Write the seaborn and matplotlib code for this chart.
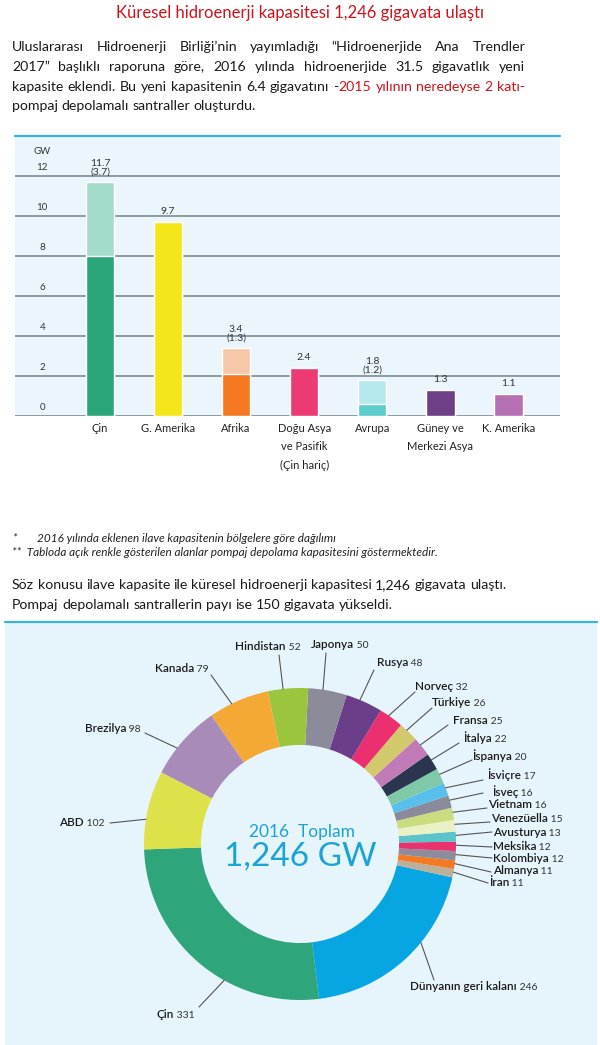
import numpy as np
import pandas as pd
import matplotlib.pyplot as plt
import seaborn as sns

sns.set_style('white')
plt.rcParams['font.family'] = ['Lato', 'DejaVu Sans']

# 2016'da eklenen kapasite (GW), bolgelere gore; pumped = pompaj depolamali kisim
regions = ['Çin', 'G. Amerika', 'Afrika', 'Doğu Asya\nve Pasifik\n(Çin hariç)',
           'Avrupa', 'Güney ve\nMerkezi Asya', 'K. Amerika']
added_total = [11.7, 9.7, 3.4, 2.4, 1.8, 1.3, 1.1]
pumped = [3.7, 0, 1.3, 0, 1.2, 0, 0]
y_ticks = [0, 2, 4, 6, 8, 10, 12]

# toplam kurulu kapasite (GW), donut icin saat yonunun tersine sirali
countries = ['Çin', 'Dünyanın geri kalanı', 'İran', 'Almanya', 'Kolombiya', 'Meksika',
             'Avusturya', 'Venezüella', 'Vietnam', 'İsveç', 'İsviçre', 'İspanya',
             'İtalya', 'Fransa', 'Türkiye', 'Norveç', 'Rusya', 'Japonya', 'Hindistan',
             'Kanada', 'Brezilya', 'ABD']
capacity = [331, 246, 11, 11, 12, 12, 13, 15, 16, 16, 17, 20, 22, 25, 26, 32, 48, 50, 52,
            79, 98, 102]

bar_dark = ['#2ba57a', '#f5e61a', '#f47920', '#ec3a74', '#5ccccc', '#6c3f87', '#b870b4']
bar_light = ['#a3dccb', '#f5e61a', '#f6c8a8', '#ec3a74', '#b6e9ee', '#6c3f87', '#b870b4']
donut_colors = ['#2ea57a', '#07a6e2', '#bcb09a', '#f47920', '#8c8c9c', '#e8336e',
                '#5bc3c9', '#eaf1c4', '#c9dc7e', '#8a8a9a', '#58bfea', '#7ecaa8',
                '#2b3550', '#c07ab8', '#d2c86c', '#ec2f6f', '#6b3e8a', '#8b8b99',
                '#9bc53d', '#f5a935', '#a98bb9', '#dde24b']

# label layout for the donut (pixels): text left x, text center y, leader end x, y
label_pos = {
    'Hindistan': (235, 646, 279, 655), 'Japonya': (311, 644, 326, 653),
    'Rusya': (377, 662, 374, 670), 'Norveç': (415, 687, 415, 692),
    'Türkiye': (432, 703, 432, 708), 'Fransa': (453, 720, 448, 725),
    'İtalya': (463, 738, 459, 743), 'İspanya': (472, 756, 472, 760),
    'İsviçre': (487, 775, 483, 780), 'İsveç': (492, 792, 483, 793),
    'Vietnam': (488, 804, 487, 808), 'Venezüella': (491, 819, 490, 822),
    'Avusturya': (493, 832, 492, 832), 'Meksika': (493, 846, 492, 847),
    'Kolombiya': (493, 858, 492, 858), 'Almanya': (493, 870, 491, 872),
    'İran': (489, 883, 488, 883), 'Dünyanın geri kalanı': (410, 986, 434, 980),
    'Çin': (157, 1015, 199, 1007), 'ABD': (59, 822, 110, 823),
    'Brezilya': (85, 728, 145, 733), 'Kanada': (155, 668, 211, 675),
}

W, H = 600, 1045
fig = plt.figure(figsize=(W / 100, H / 100), dpi=100)
renderer = fig.canvas.get_renderer()


def fx(x):
    return x / W


def fy(y):
    return 1 - y / H


def width_of(s, size):
    t = fig.text(0, 0, s, fontsize=size)
    w = t.get_window_extent(renderer).width
    t.remove()
    return w


def put_line(words, y, x0, x1=None, size=10.2):
    # a word is a str or a list of (text, color) parts; x1 given -> justified
    words = [[(w, '#1a1a1a')] if isinstance(w, str) else w for w in words]
    widths = [[width_of(p, size) for p, c in w] for w in words]
    total = sum(sum(ws) for ws in widths)
    if x1 is None:
        gap = width_of('a a', size) - width_of('aa', size)
    else:
        gap = (x1 - x0 - total) / (len(words) - 1)
    x = x0
    for w, ws in zip(words, widths):
        for (p, c), pw in zip(w, ws):
            fig.text(fx(x), fy(y), p, fontsize=size, color=c, va='center')
            x += pw
        x += gap


# title and first paragraph
red = '#d0121b'
fig.text(0.5, fy(13), 'Küresel hidroenerji kapasitesi 1,246 gigavata ulaştı',
         ha='center', va='center', fontsize=12, color=red)
put_line('Uluslararası Hidroenerji Birliği’nin yayımladığı “Hidroenerjide Ana Trendler'.split(),
         47, 12, 525)
put_line('2017” başlıklı raporuna göre, 2016 yılında hidroenerjide 31.5 gigavatlık yeni'.split(),
         67, 12, 525)
line3 = 'kapasite eklendi. Bu yeni kapasitenin 6.4 gigavatını'.split()
line3 += [[('-', '#1a1a1a'), ('2015', red)]] + [[(w, red)] for w in 'yılının neredeyse 2 katı-'.split()]
put_line(line3, 87, 12, 525)
put_line('pompaj depolamalı santraller oluşturdu.'.split(), 106, 12)

# bar chart
ax = fig.add_axes([fx(15), fy(415.7), fx(545), (415.7 - 136) / H])
df = pd.DataFrame({'region': regions, 'total': added_total, 'pumped': pumped})
df['conventional'] = df['total'] - df['pumped']
sns.barplot(data=df, x='region', y='total', hue='region', palette=bar_light, width=0.42,
            saturation=1, legend=False, ax=ax, zorder=2)
sns.barplot(data=df, x='region', y='conventional', hue='region', palette=bar_dark, width=0.42,
            saturation=1, legend=False, ax=ax, zorder=3)
ax.set_facecolor('#eaf6fb')
for v in y_ticks:
    ax.axhline(v, color='#76838a', lw=1.1, zorder=1)
    ax.text(-0.85, v + 0.2, str(v), ha='center', va='bottom', fontsize=7, color='#333')
ax.text(-0.85, 13.2, 'GW', ha='center', va='center', fontsize=7, color='#333')
ax.axhline(14, color='#3ab4da', lw=1.6, clip_on=False)
for i, (t, p) in enumerate(zip(added_total, pumped)):
    s = f'{t}' if p == 0 else f'{t}\n({p})'
    ax.annotate(s, (i, t), xytext=(0, 4), textcoords='offset points', ha='center',
                va='bottom', fontsize=7.5, linespacing=0.95, color='#333')
ax.set_xlim(-1.25, 6.76)
ax.set_ylim(0, 14)
ax.set_yticks([])
ax.set_xlabel('')
ax.set_ylabel('')
ax.tick_params(axis='x', length=0, pad=5, labelsize=8, colors='#222')
for lbl in ax.get_xticklabels():
    lbl.set_linespacing(1.85)
sns.despine(ax=ax, left=True, bottom=True)

# footnotes and second paragraph
fig.text(fx(12), fy(538), '*', fontsize=8.5, style='italic', va='center', color='#222')
fig.text(fx(37), fy(538), '2016 yılında eklenen ilave kapasitenin bölgelere göre dağılımı',
         fontsize=8.5, style='italic', va='center', color='#222')
fig.text(fx(12), fy(552),
         '**  Tabloda açık renkle gösterilen alanlar pompaj depolama kapasitesini göstermektedir.',
         fontsize=8.5, style='italic', va='center', color='#222')
put_line('Söz konusu ilave kapasite ile küresel hidroenerji kapasitesi 1,246 gigavata ulaştı.'.split(),
         585, 12)
put_line('Pompaj depolamalı santrallerin payı ise 150 gigavata yükseldi.'.split(), 605, 12)

# donut chart
R = 156
cx, cy = 300, 844


def px(x, y):
    return (x - cx) / R, (cy - y) / R


ax2 = fig.add_axes([fx(5), 0, fx(592), (H - 622) / H])
wedges, _ = ax2.pie(capacity, colors=donut_colors, startangle=182, counterclock=True,
                    radius=1, wedgeprops=dict(width=0.365, linewidth=0))
ax2.set_aspect('auto')
ax2.set_frame_on(True)
for s in ax2.spines.values():
    s.set_visible(False)
ax2.set_facecolor('#e6f4fb')
ax2.set_xlim((5 - cx) / R, (597 - cx) / R)
ax2.set_ylim((cy - H) / R, (cy - 622) / R)
ax2.axhline((cy - 622) / R, color='#3ab4da', lw=1.6, clip_on=False)

for w, name, val in zip(wedges, countries, capacity):
    x, y, lx, ly = label_pos[name]
    # leader starts a bit past the middle of the wedge, on its outer edge
    ang = np.deg2rad(w.theta1 + 0.62 * (w.theta2 - w.theta1))
    ex, ey = px(lx, ly)
    ax2.plot([np.cos(ang), ex], [np.sin(ang), ey], color='#555', lw=0.8)
    t = ax2.text(*px(x, y), name, ha='left', va='center', fontsize=8.5,
                 fontweight='semibold', color='#1a1a1a')
    ax2.annotate(' ' + str(val), xy=(1, 0), xycoords=t, ha='left', va='bottom',
                 fontsize=7.5, color='#333')

ax2.text(*px(302, 832), '2016  Toplam', ha='center', va='center', fontsize=12.5,
         color='#1ba3d8')
ax2.text(*px(300, 857), '1,246 GW', ha='center', va='center', fontsize=24, color='#1ba3d8')

fig.savefig('out.png', dpi=100)
